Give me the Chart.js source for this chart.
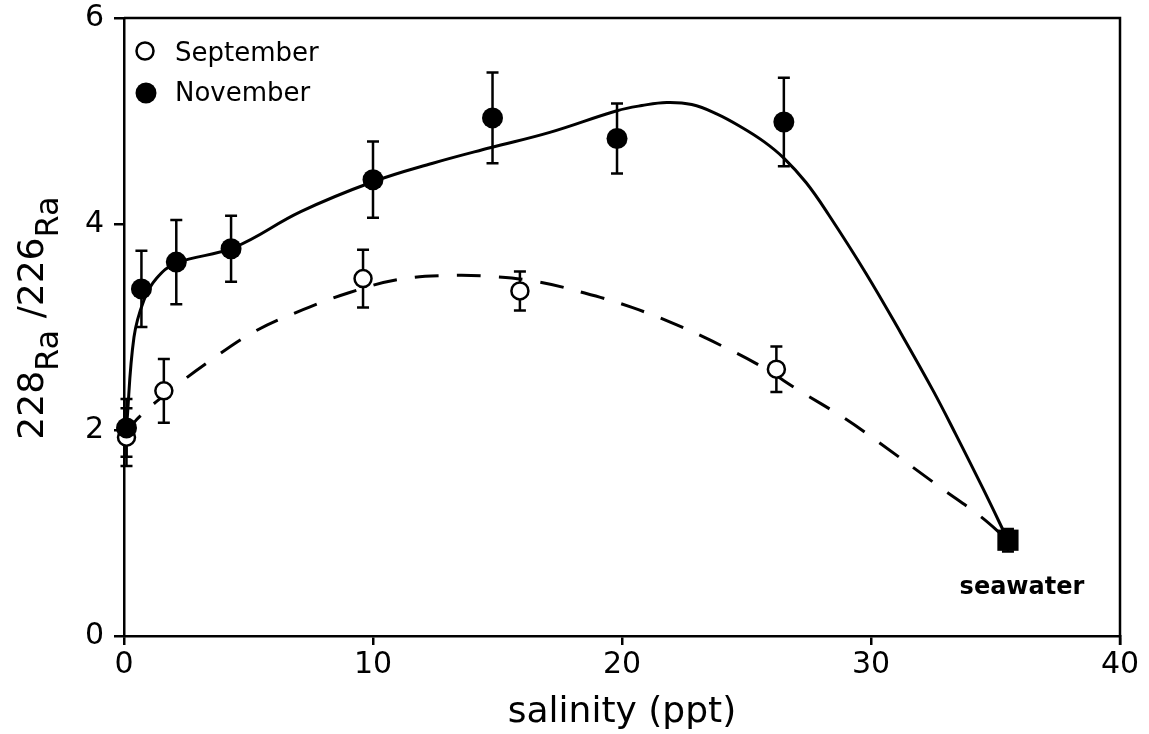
<!DOCTYPE html>
<html>
<head>
<meta charset="utf-8">
<script src="https://cdn.jsdelivr.net/npm/chart.js@4.4.0/dist/chart.umd.min.js"></script>
<style>
  html, body { margin: 0; padding: 0; background: #fff; }
  #wrap { width: 1149px; height: 734px; position: relative; }
</style>
</head>
<body>
<div id="wrap"><canvas id="myChart"></canvas></div>
<script>
// measured points (salinity in ppt, 228Ra/226Ra activity ratio)
const seriesNames = ["September", "November"];
const sepSalinity = [0.1, 1.6, 9.6, 15.9, 26.2];
const sepRatio = [1.93, 2.38, 3.47, 3.35, 2.59];
const sepError = [0.28, 0.31, 0.28, 0.19, 0.22];

const novSalinity = [0.1, 0.7, 2.1, 4.3, 10.0, 14.8, 19.8, 26.5];
const novRatio = [2.02, 3.37, 3.63, 3.76, 4.43, 5.03, 4.83, 4.99];
const novError = [0.28, 0.37, 0.41, 0.32, 0.37, 0.44, 0.34, 0.43];

const seawaterLabel = "seawater";
const seaSalinity = [35.5];
const seaRatio = [0.93];
const seaError = [0.11];

// hand-drawn fit curves
const sepCurveX = [0.1, 0.5, 2, 3.5, 5.2, 7, 9, 11, 13, 14.8, 16.6, 18.5, 20.4, 22.2, 23.9, 25.5, 27.2, 28.9, 30.2, 32.8, 34.4, 35.5];
const sepCurveY = [1.95, 2.1, 2.41, 2.68, 2.95, 3.15, 3.33, 3.46, 3.5, 3.49, 3.44, 3.33, 3.19, 3.02, 2.83, 2.63, 2.37, 2.12, 1.9, 1.44, 1.16, 0.93];
const novCurveX = [0.1, 0.4, 0.8, 1.3, 2.1, 4.4, 7.1, 10, 12.4, 14.7, 17.1, 19.8, 20.8, 21.8, 22.8, 23.8, 24.8, 25.7, 26.5, 27.4, 28.3, 29.8, 31.2, 32.5, 33.4, 34.5, 35.5];
const novCurveY = [2.02, 2.9, 3.26, 3.47, 3.62, 3.77, 4.12, 4.41, 4.59, 4.74, 4.89, 5.1, 5.15, 5.18, 5.16, 5.07, 4.94, 4.8, 4.64, 4.4, 4.09, 3.52, 2.94, 2.38, 1.96, 1.43, 0.93];

const xTicks = [0, 10, 20, 30, 40];
const yTicks = [0, 2, 4, 6];

const FONT = "'DejaVu Sans', sans-serif";

function pts(xs, ys) {
  return xs.map((x, i) => ({ x: x, y: ys[i] }));
}

// error bars + frame, under the markers
const errorBars = {
  id: "errorBars",
  beforeDatasetsDraw(chart) {
    const ctx = chart.ctx;
    const xs = chart.scales.x, ys = chart.scales.y;
    const a = chart.chartArea;
    ctx.save();
    ctx.strokeStyle = "#000";
    ctx.lineWidth = 2.5;
    // top and right edges of the box
    ctx.beginPath();
    ctx.moveTo(a.left, a.top);
    ctx.lineTo(a.right, a.top);
    ctx.lineTo(a.right, a.bottom + 9);
    ctx.stroke();

    const groups = [
      [sepSalinity, sepRatio, sepError],
      [novSalinity, novRatio, novError],
      [seaSalinity, seaRatio, seaError]
    ];
    groups.forEach(([sx, sy, se]) => {
      sx.forEach((s, i) => {
        const px = xs.getPixelForValue(s);
        const top = ys.getPixelForValue(sy[i] + se[i]);
        const bot = ys.getPixelForValue(sy[i] - se[i]);
        ctx.beginPath();
        ctx.moveTo(px, top);
        ctx.lineTo(px, bot);
        ctx.moveTo(px - 6, top);
        ctx.lineTo(px + 6, top);
        ctx.moveTo(px - 6, bot);
        ctx.lineTo(px + 6, bot);
        ctx.stroke();
      });
    });
    ctx.restore();
  }
};

// legend, axis titles and the seawater note
const annotations = {
  id: "annotations",
  afterDraw(chart) {
    const ctx = chart.ctx;
    const xs = chart.scales.x;
    ctx.save();
    ctx.fillStyle = "#000";
    ctx.strokeStyle = "#000";

    // legend
    ctx.lineWidth = 2.5;
    ctx.beginPath();
    ctx.arc(145, 51, 8.5, 0, Math.PI * 2);
    ctx.fillStyle = "#fff";
    ctx.fill();
    ctx.stroke();
    ctx.fillStyle = "#000";
    ctx.beginPath();
    ctx.arc(146, 93, 10.5, 0, Math.PI * 2);
    ctx.fill();
    ctx.font = "26px " + FONT;
    ctx.textAlign = "left";
    ctx.textBaseline = "alphabetic";
    ctx.fillText(seriesNames[0], 175, 61);
    ctx.fillText(seriesNames[1], 175, 101);

    // seawater label
    ctx.font = "bold 24px " + FONT;
    ctx.textAlign = "center";
    ctx.fillText(seawaterLabel, xs.getPixelForValue(seaSalinity[0]) + 14, 594);

    // x title
    ctx.font = "36px " + FONT;
    ctx.fillText("salinity (ppt)", (chart.chartArea.left + chart.chartArea.right) / 2, 722);

    // y title: 228Ra/226Ra with lowered element symbols
    const parts = [
      ["228", "36px " + FONT, 0],
      ["Ra", "32px " + FONT, 15],
      [" /", "36px " + FONT, 0],
      ["226", "36px " + FONT, 0],
      ["Ra", "32px " + FONT, 15]
    ];
    let total = 0;
    parts.forEach(p => { ctx.font = p[1]; total += ctx.measureText(p[0]).width; });
    ctx.translate(43, 318);
    ctx.rotate(-Math.PI / 2);
    ctx.textAlign = "left";
    let cx = -total / 2;
    parts.forEach(p => {
      ctx.font = p[1];
      ctx.fillText(p[0], cx, p[2]);
      cx += ctx.measureText(p[0]).width;
    });
    ctx.restore();
  }
};

const config = {
  data: {
    datasets: [
      {
        type: "scatter",
        label: seawaterLabel,
        data: pts(seaSalinity, seaRatio),
        pointStyle: "rect",
        pointRadius: 15,
        backgroundColor: "#000",
        borderColor: "#000",
        borderWidth: 0,
        clip: false
      },
      {
        type: "scatter",
        label: seriesNames[1],
        data: pts(novSalinity, novRatio),
        pointRadius: 10.5,
        backgroundColor: "#000",
        borderColor: "#000",
        borderWidth: 0,
        clip: false
      },
      {
        type: "scatter",
        label: seriesNames[0],
        data: pts(sepSalinity, sepRatio),
        pointRadius: 8.5,
        backgroundColor: "#fff",
        borderColor: "#000",
        borderWidth: 2.5,
        clip: false
      },
      {
        type: "line",
        label: seriesNames[1] + " fit",
        data: pts(novCurveX, novCurveY),
        borderColor: "#000",
        borderWidth: 3,
        pointRadius: 0,
        fill: false,
        tension: 0.4,
        clip: false
      },
      {
        type: "line",
        label: seriesNames[0] + " fit",
        data: pts(sepCurveX, sepCurveY),
        borderColor: "#000",
        borderWidth: 3,
        borderDash: [24, 18],
        pointRadius: 0,
        fill: false,
        tension: 0.4,
        clip: false
      }
    ]
  },
  options: {
    responsive: true,
    maintainAspectRatio: false,
    animation: false,
    events: [],
    layout: { padding: { top: 18, right: 29, left: 0, bottom: 0 } },
    plugins: {
      legend: { display: false },
      tooltip: { enabled: false }
    },
    scales: {
      x: {
        type: "linear",
        min: 0,
        max: 40,
        afterBuildTicks: (s) => { s.ticks = xTicks.map(v => ({ value: v })); },
        afterFit: (s) => { s.height = 98; s.paddingLeft = 0; s.paddingRight = 0; },
        border: { display: true, color: "#000", width: 2.5 },
        grid: { drawOnChartArea: false, drawTicks: true, tickLength: 9, color: "#000", lineWidth: 2.5 },
        ticks: { color: "#000", font: { family: FONT, size: 30 }, padding: 2, maxRotation: 0 }
      },
      y: {
        type: "linear",
        min: 0,
        max: 6,
        afterBuildTicks: (s) => { s.ticks = yTicks.map(v => ({ value: v })); },
        afterFit: (s) => { s.width = 124; s.paddingTop = 0; s.paddingBottom = 0; },
        border: { display: true, color: "#000", width: 2.5 },
        grid: { drawOnChartArea: false, drawTicks: true, tickLength: 10, color: "#000", lineWidth: 2.5 },
        ticks: { color: "#000", font: { family: FONT, size: 30 }, padding: 10 }
      }
    }
  },
  plugins: [errorBars, annotations]
};

new Chart(document.getElementById("myChart"), config);
</script>
</body>
</html>
